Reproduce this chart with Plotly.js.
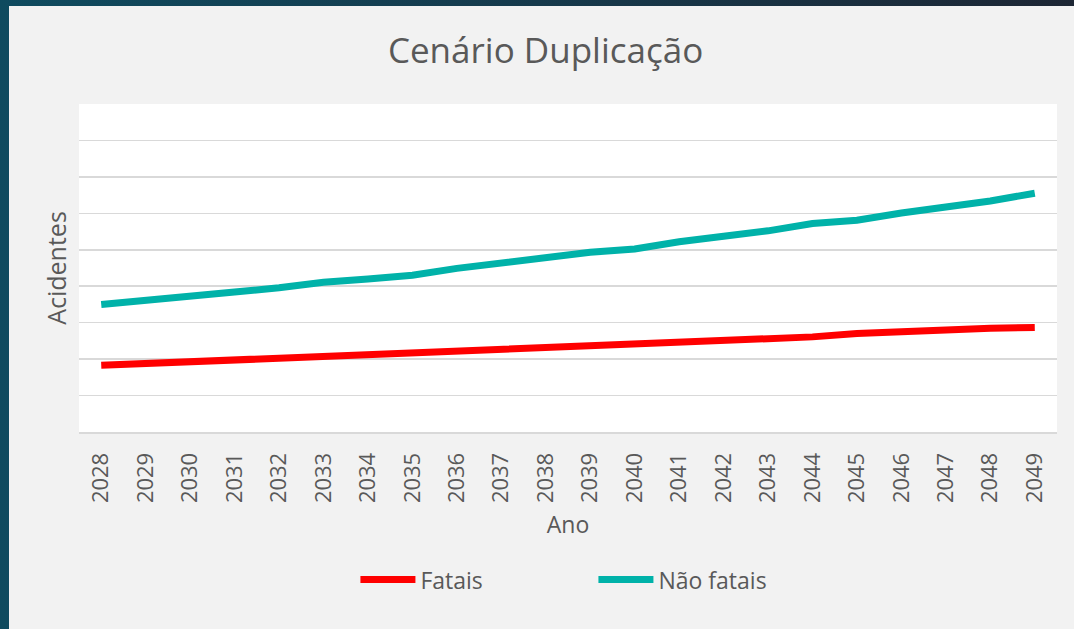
<!DOCTYPE html>
<html>
<head>
<meta charset="utf-8">
<script src="https://cdn.plot.ly/plotly-3.0.1.min.js"></script>
<style>
  html, body { margin: 0; padding: 0; width: 1074px; height: 629px; overflow: hidden;
    background: linear-gradient(90deg, #0f4b5f 0%, #163a4c 50%, #1d2634 100%); }
  #panel { position: absolute; left: 9px; top: 6px; width: 1065px; height: 623px; background: #f2f2f2; }
  #chart { position: absolute; left: 0; top: 0; width: 1074px; height: 629px; }
</style>
</head>
<body>
<div id="panel"></div>
<div id="chart"></div>
<script>
const years = ["2028","2029","2030","2031","2032","2033","2034","2035","2036","2037","2038",
               "2039","2040","2041","2042","2043","2044","2045","2046","2047","2048","2049"];
const fatais = [183,188,191,197,201,206,211,215,221,227,232,237,241,246,252,255,261,270,276,281,285,287];
const naoFatais = [350,360,373,384,396,411,420,430,449,464,479,493,502,522,537,552,572,581,601,616,634,655];

const textColor = '#595959';
const fontFamily = '"Open Sans", "Noto Sans", sans-serif';

const traces = [
  { x: years, y: fatais, name: 'Fatais', type: 'scatter', mode: 'lines',
    line: { color: '#ff0000', width: 7 } },
  { x: years, y: naoFatais, name: 'Não fatais', type: 'scatter', mode: 'lines',
    line: { color: '#00b2a9', width: 7 } }
];

const layout = {
  width: 1074, height: 629,
  paper_bgcolor: 'rgba(0,0,0,0)',
  plot_bgcolor: '#ffffff',
  margin: { l: 79, r: 17, t: 104, b: 197 },
  font: { family: fontFamily, color: textColor },
  title: { text: 'Cenário Duplicação', x: 0.508, xanchor: 'center', y: 0.92, yanchor: 'middle',
           font: { size: 35, color: textColor, family: fontFamily } },
  xaxis: {
    type: 'category',
    range: [-0.5, years.length - 0.5],
    tickangle: -90,
    ticks: '',
    ticklabelstandoff: 10,
    tickfont: { size: 22, color: textColor },
    showgrid: false,
    showline: true, linecolor: '#d9d9d9', linewidth: 2,
    zeroline: false,
    title: { text: 'Ano', font: { size: 23, color: textColor }, standoff: 15 },
    fixedrange: true
  },
  yaxis: {
    range: [0, 900],
    dtick: 100,
    showticklabels: false,
    ticks: '',
    showgrid: true, gridcolor: '#d9d9d9', gridwidth: 1.5,
    zeroline: false,
    showline: false,
    title: { text: 'Acidentes', font: { size: 25, color: textColor }, standoff: 4 },
    fixedrange: true
  },
  showlegend: true,
  legend: {
    orientation: 'h',
    x: 0.526, xanchor: 'center',
    y: -0.45, yanchor: 'middle',
    font: { size: 23, color: textColor },
    itemwidth: 55,
    entrywidth: 168,
    bgcolor: 'rgba(0,0,0,0)'
  }
};

Plotly.newPlot('chart', traces, layout, { displayModeBar: false, staticPlot: true });
</script>
</body>
</html>
